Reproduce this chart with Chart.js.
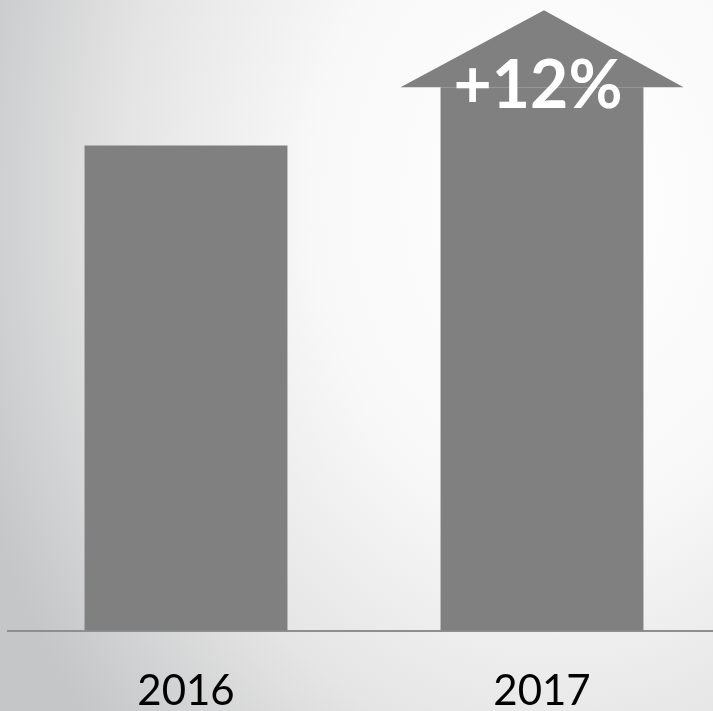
<!DOCTYPE html>
<html>
<head>
<meta charset="utf-8">
<script src="https://cdn.jsdelivr.net/npm/chart.js@4.4.1/dist/chart.umd.min.js"></script>
<style>
  html, body { margin:0; padding:0; overflow:hidden; background:#e6e6e6; }
  #growthChart { display:block; }
</style>
</head>
<body>
<canvas id="growthChart" width="720" height="711"></canvas>
<script>
// yearly values (2016 = base)
const years = ['2016', '2017'];
const values = [100, 112];

const BAR_GREY = '#808080';

// soft grey-to-white backdrop behind the whole canvas
const backdrop = {
  id: 'backdrop',
  beforeDraw(chart){
    const ctx = chart.ctx;
    ctx.save();
    ctx.translate(560, 200);
    ctx.scale(1, 800/620);
    const g = ctx.createRadialGradient(0, 0, 0, 0, 0, 620);
    g.addColorStop(0, '#ffffff');
    g.addColorStop(0.4, '#f8f8f8');
    g.addColorStop(0.7, '#e5e5e5');
    g.addColorStop(1, '#c5c6c8');
    ctx.fillStyle = g;
    ctx.fillRect(-600, -200, 1400, 800);
    ctx.restore();
  }
};

// arrow head on top of the last bar, with the change label in it
const growthArrow = {
  id: 'growthArrow',
  afterDatasetsDraw(chart){
    const ctx = chart.ctx;
    const bars = chart.getDatasetMeta(0).data;
    const last = bars[bars.length-1];
    const halfW = 141.5, headH = 77;
    ctx.save();
    ctx.fillStyle = BAR_GREY;
    ctx.beginPath();
    ctx.moveTo(last.x - halfW, last.y);
    ctx.lineTo(last.x + 2, last.y - headH);
    ctx.lineTo(last.x + halfW, last.y);
    ctx.closePath();
    ctx.fill();

    const pct = Math.round((values[values.length-1] - values[0]) / values[0] * 100);
    ctx.fillStyle = '#ffffff';
    ctx.font = 'bold 66px Lato';
    ctx.textAlign = 'center';
    ctx.textBaseline = 'alphabetic';
    ctx.fillText('+' + pct + '%', last.x - 4, last.y + 21);
    ctx.restore();
  }
};

new Chart(document.getElementById('growthChart').getContext('2d'), {
  type: 'bar',
  data: {
    labels: years,
    datasets: [{
      data: values,
      backgroundColor: BAR_GREY,
      borderWidth: 0,
      categoryPercentage: 1,
      barPercentage: 0.57
    }]
  },
  options: {
    responsive: false,
    animation: false,
    layout: { padding: { left: 8, right: 0, top: 0, bottom: -42 } },
    plugins: { legend: { display: false }, tooltip: { enabled: false } },
    scales: {
      x: {
        grid: { display: false, drawTicks: false },
        border: { display: true, color: '#8e8e8e', width: 2 },
        ticks: { color: '#000000', font: { family: 'Lato', size: 42 }, padding: 36 }
      },
      y: { display: false, min: 0, max: 130 }
    }
  },
  plugins: [backdrop, growthArrow]
});
</script>
</body>
</html>
